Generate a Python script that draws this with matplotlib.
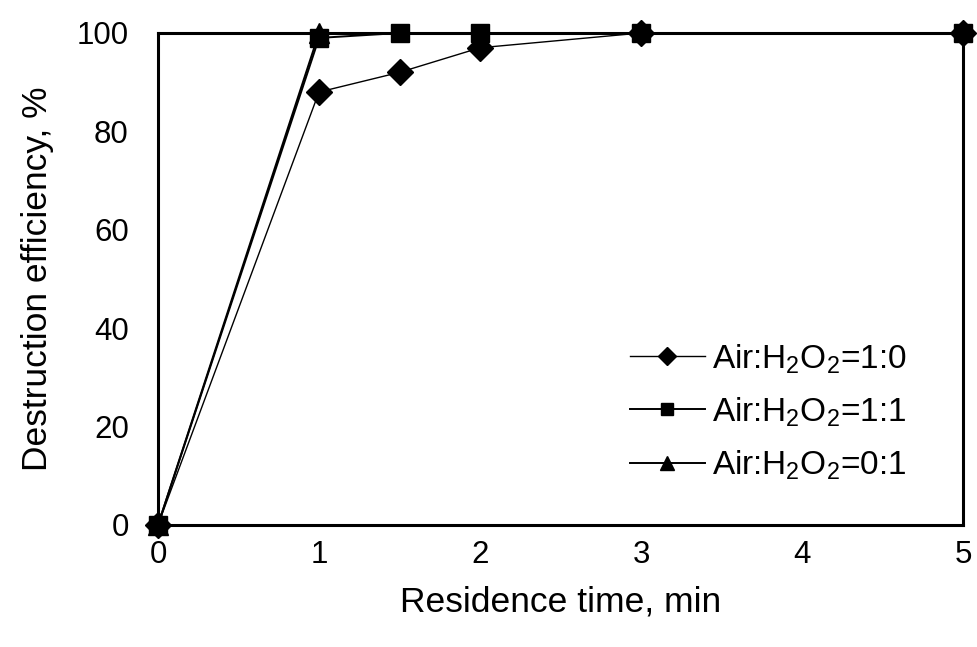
import matplotlib
matplotlib.use("Agg")
import matplotlib.pyplot as plt

plt.rcParams['font.family'] = ['Liberation Sans', 'DejaVu Sans']
plt.rcParams['mathtext.fontset'] = 'custom'
plt.rcParams['mathtext.rm'] = 'Liberation Sans'

# Residence time (min) and destruction efficiency (%)
time_a = [0, 1, 1.5, 2, 3, 5]
eff_a = [0, 88, 92, 97, 100, 100]        # Air:H2O2 = 1:0

time_b = [0, 1, 1.5, 2, 3, 5]
eff_b = [0, 99, 100, 100, 100, 100]      # Air:H2O2 = 1:1

time_c = [0, 1]
eff_c = [0, 100]                         # Air:H2O2 = 0:1

labels = [r'Air:H$_\mathregular{2}$O$_\mathregular{2}$=1:0',
          r'Air:H$_\mathregular{2}$O$_\mathregular{2}$=1:1',
          r'Air:H$_\mathregular{2}$O$_\mathregular{2}$=0:1']

x_ticks = [0, 1, 2, 3, 4, 5]
y_ticks = [0, 20, 40, 60, 80, 100]

fig = plt.figure(figsize=(9.78, 6.47), dpi=100)
ax = fig.add_axes([158 / 978, 1 - 525 / 647, (963 - 158) / 978, (525 - 33) / 647])

ax.plot(time_a, eff_a, color='black', lw=1.0, ls=(0, (3, 2.5)), marker='D',
        markersize=13, label=labels[0], clip_on=False, zorder=3)
ax.plot(time_b, eff_b, color='black', lw=1.4, marker='s',
        markersize=13, label=labels[1], clip_on=False, zorder=4)
ax.plot(time_c, eff_c, color='black', lw=1.4, marker='^',
        markersize=14, label=labels[2], clip_on=False, zorder=4)

ax.set_xlim(0, 5)
ax.set_ylim(0, 100)
ax.set_xticks(x_ticks)
ax.set_yticks(y_ticks)
ax.tick_params(axis='both', length=0, labelsize=22.5)
ax.tick_params(axis='x', pad=11)
ax.tick_params(axis='y', pad=21)
for s in ax.spines.values():
    s.set_linewidth(2.2)

ax.set_xlabel('Residence time, min', fontsize=25.5, labelpad=11)
ax.set_ylabel('Destruction efficiency, %', fontsize=25.5, labelpad=16)

handles, lbls = ax.get_legend_handles_labels()
for h in handles:
    h.set_linestyle('-')
leg = ax.legend(handles, lbls, loc='center left',
                bbox_to_anchor=((630 - 158) / 805, (525 - 412) / 492),
                frameon=False, fontsize=24, markerscale=0.68,
                borderpad=0, borderaxespad=0,
                handlelength=2.25, handletextpad=0.2, labelspacing=0.58)

fig.savefig('out.png', dpi=100)
